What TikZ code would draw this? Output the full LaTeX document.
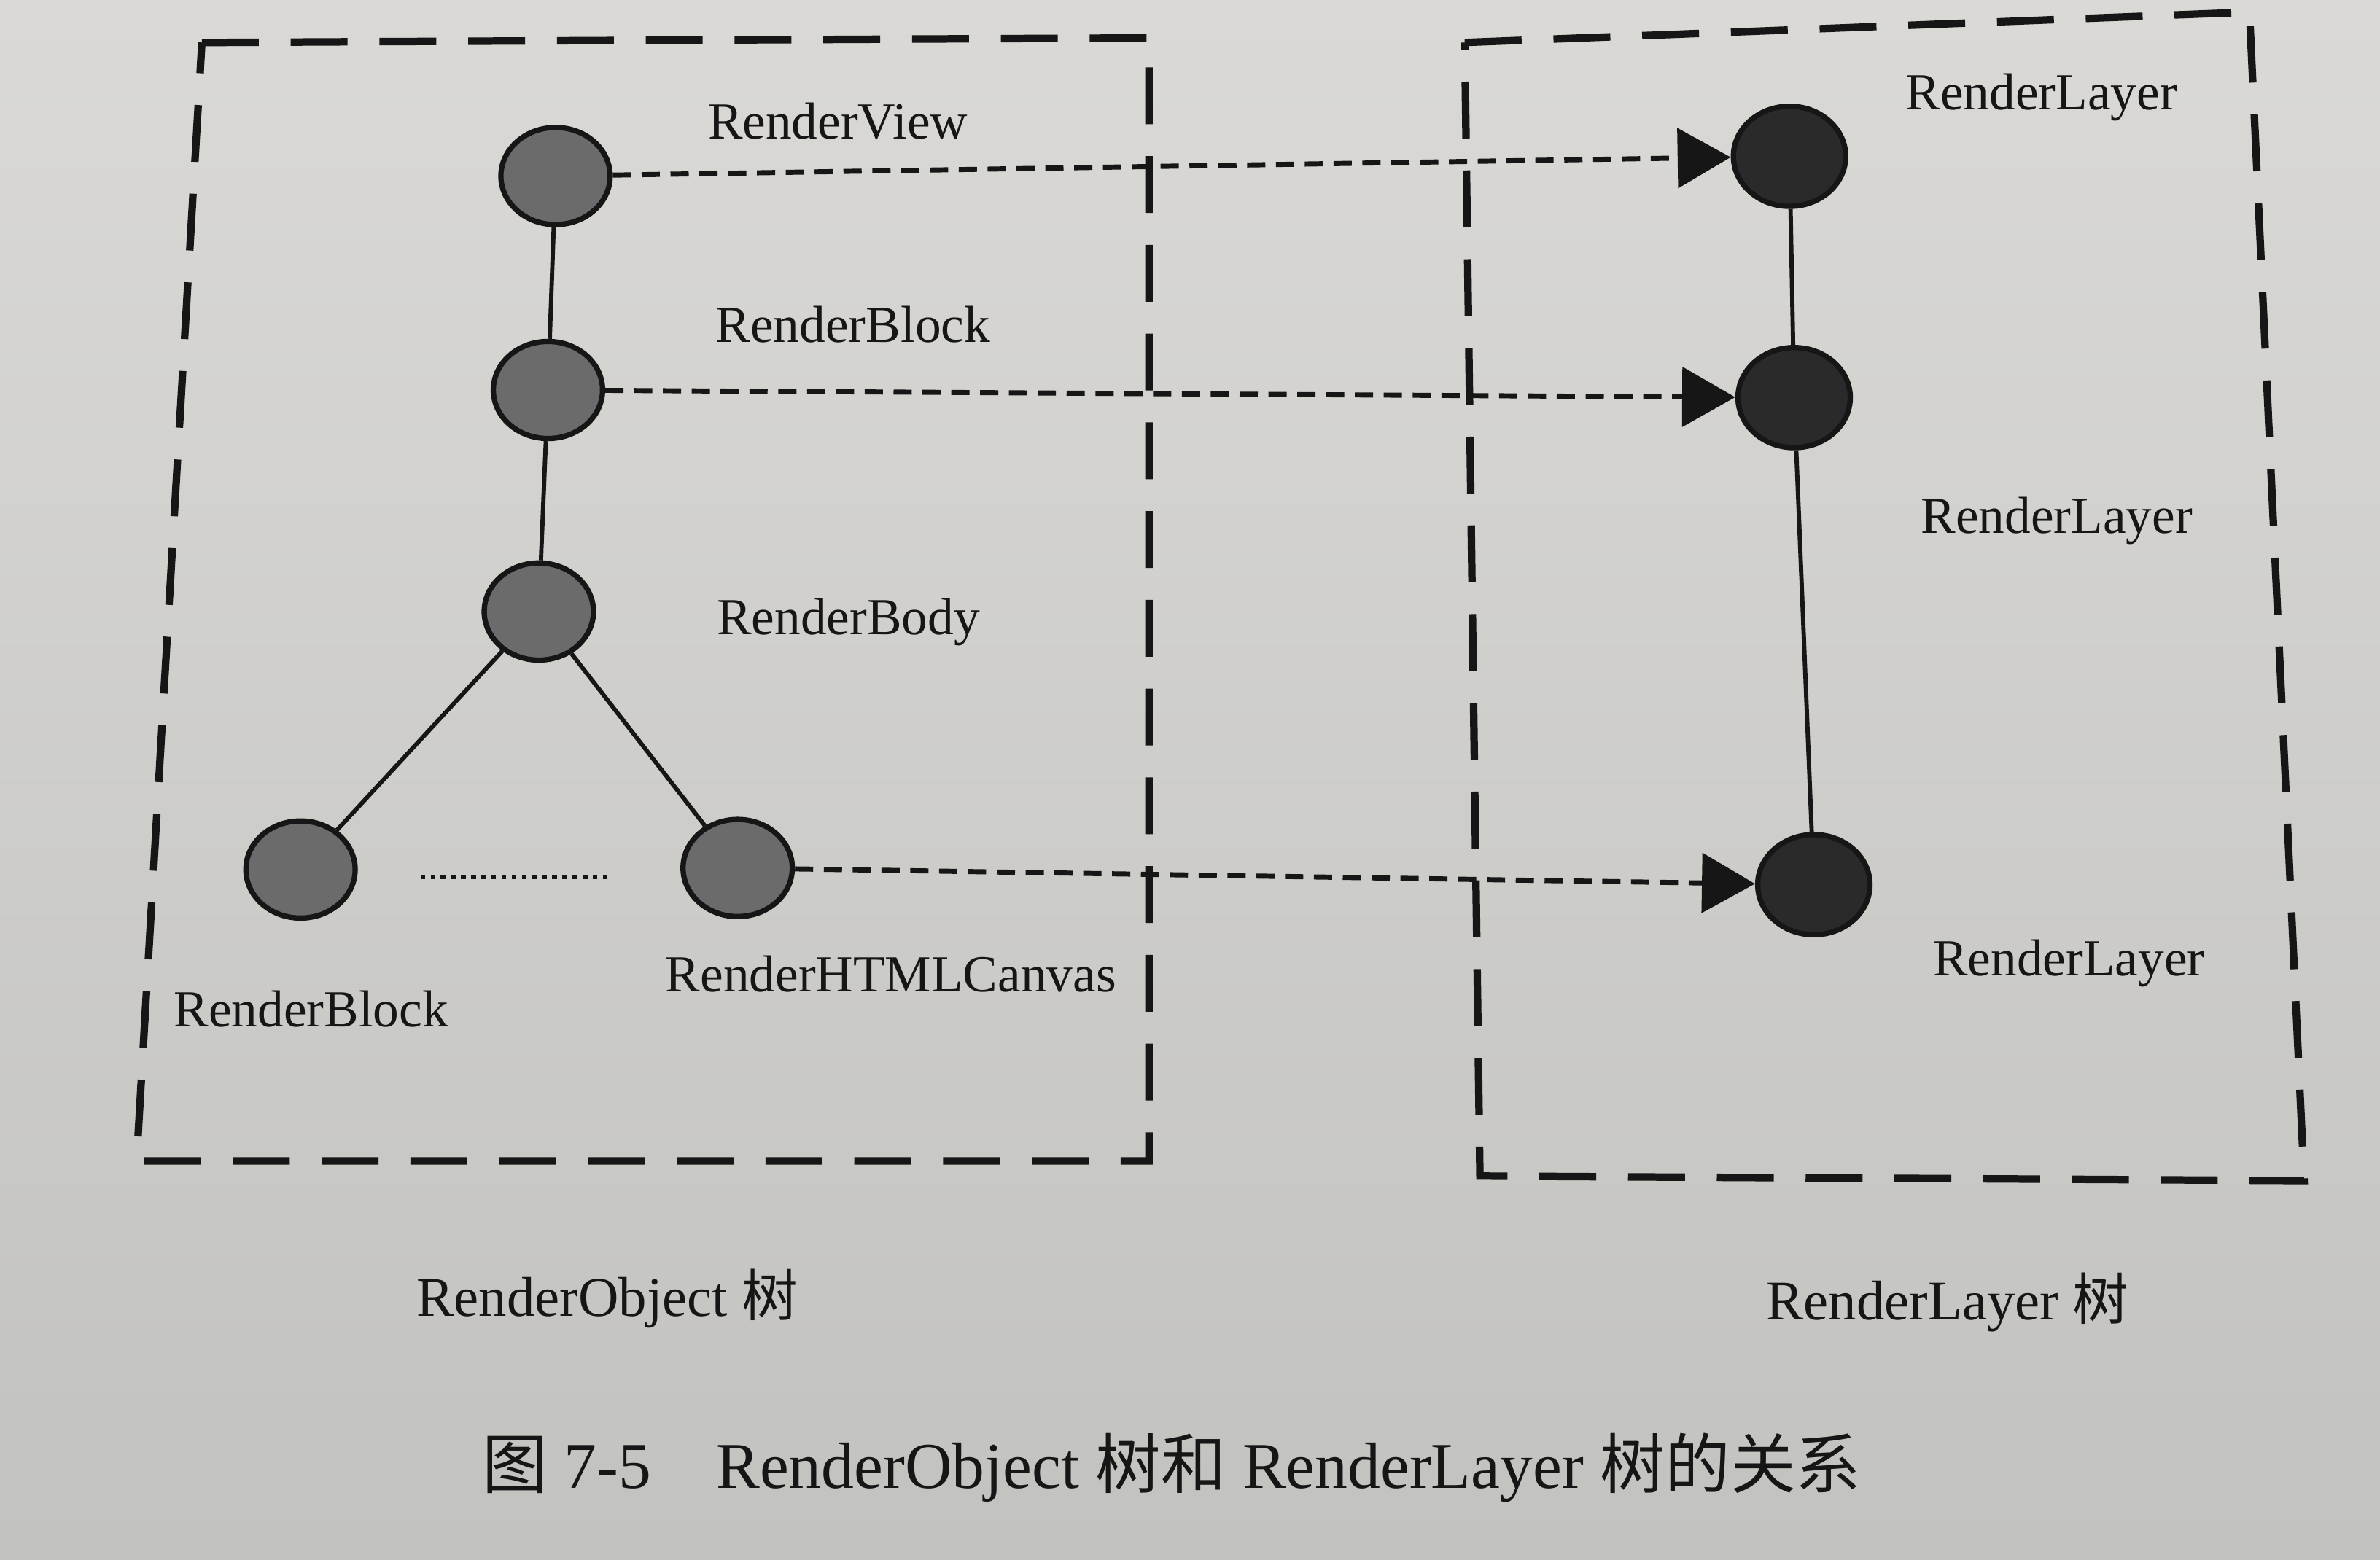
\documentclass[tikz,border=0pt]{standalone}
\usepackage{fontspec}
\setmainfont{Liberation Serif}
\newfontfamily\cjk{Noto Sans CJK SC}
\usetikzlibrary{shapes.geometric,arrows.meta,positioning}
\definecolor{paperhi}{HTML}{DAD9D6}
\definecolor{paperlo}{HTML}{C2C2BF}
\definecolor{objgray}{HTML}{6B6B6B}
\definecolor{laygray}{HTML}{2A2A2A}
\definecolor{ink}{HTML}{161616}

\begin{document}
\begin{tikzpicture}[x=0.02cm, y=-0.02cm, color=ink,
  obj/.style = {draw, ellipse, line width=2pt, fill=objgray, minimum width=1.44cm, minimum height=1.28cm, inner sep=0pt},
  lay/.style = {obj, fill=laygray, minimum width=1.48cm, minimum height=1.32cm},
  lbl/.style = {font=\fontsize{19.5}{23}\selectfont, inner sep=0pt},
  treelbl/.style = {font=\fontsize{21}{25}\selectfont, inner sep=0pt},
  frame/.style = {line width=2.8pt, dash pattern=on 0.75cm off 0.42cm},
  link/.style = {line width=1.9pt, dash pattern=on 0.24cm off 0.14cm, -{Triangle[length=0.7cm,width=0.78cm]}},
  tree/.style = {line width=1.6pt}]
  \shade[top color=paperhi, bottom color=paperlo] (0,0) rectangle (1568,1028);
  \useasboundingbox (0,0) rectangle (1568,1028);

  % dashed frames
  \draw[frame] (133,28) -- (757,25) -- (757,765) -- (90,765) -- cycle;
  \draw[frame] (965,28) -- (1482,8) -- (1518,778) -- (975,775) -- cycle;

  % RenderObject tree
  \node[obj] (view) at (366,116) {};
  \node[obj] (block) at (361,257) {};
  \node[obj] (body) at (355,403) {};
  \node[obj] (blockb) at (198,573) {};
  \node[obj] (canvas) at (486,572) {};
  \draw[tree] (view) -- (block);
  \draw[tree] (block) -- (body);
  \draw[tree] (body) -- (blockb);
  \draw[tree] (body) -- (canvas);
  \coordinate (dots1) at (277,578);
  \coordinate (dots2) at (403,578);
  \draw[line width=1.8pt, dotted] (dots1) -- (dots2);

  % RenderLayer tree
  \node[lay] (layer1) at (1179,103) {};
  \node[lay] (layer2) at (1182,262) {};
  \node[lay] (layer3) at (1195,583) {};
  \draw[tree] (layer1) -- (layer2);
  \draw[tree] (layer2) -- (layer3);

  % mapping
  \draw[link] (view) -- (layer1);
  \draw[link] (block) -- (layer2);
  \draw[link] (canvas) -- (layer3);

  % labels
  \node[lbl] (lview) at (552,80) {RenderView};
  \node[lbl] (lblock) at (562,214) {RenderBlock};
  \node[lbl] (lbody) at (559,410) {RenderBody};
  \node[lbl] (lblockb) at (205,665) {RenderBlock};
  \node[lbl] (lcanvas) at (587,642) {RenderHTMLCanvas};
  \node[lbl] (llayer1) at (1345,64) {RenderLayer};
  \node[lbl] (llayer2) at (1355,343) {RenderLayer};
  \node[lbl] (llayer3) at (1363,635) {RenderLayer};
  \node[treelbl] (objtree) at (400,856) {RenderObject {\cjk 树}};
  \node[treelbl] (laytree) at (1283,858) {RenderLayer {\cjk 树}};
  \node[font=\fontsize{24.5}{28}\selectfont, inner sep=0pt] (caption) at (772,967)
    {{\cjk 图} 7-5\quad RenderObject {\cjk 树和} RenderLayer {\cjk 树的关系}};
\end{tikzpicture}
\end{document}
